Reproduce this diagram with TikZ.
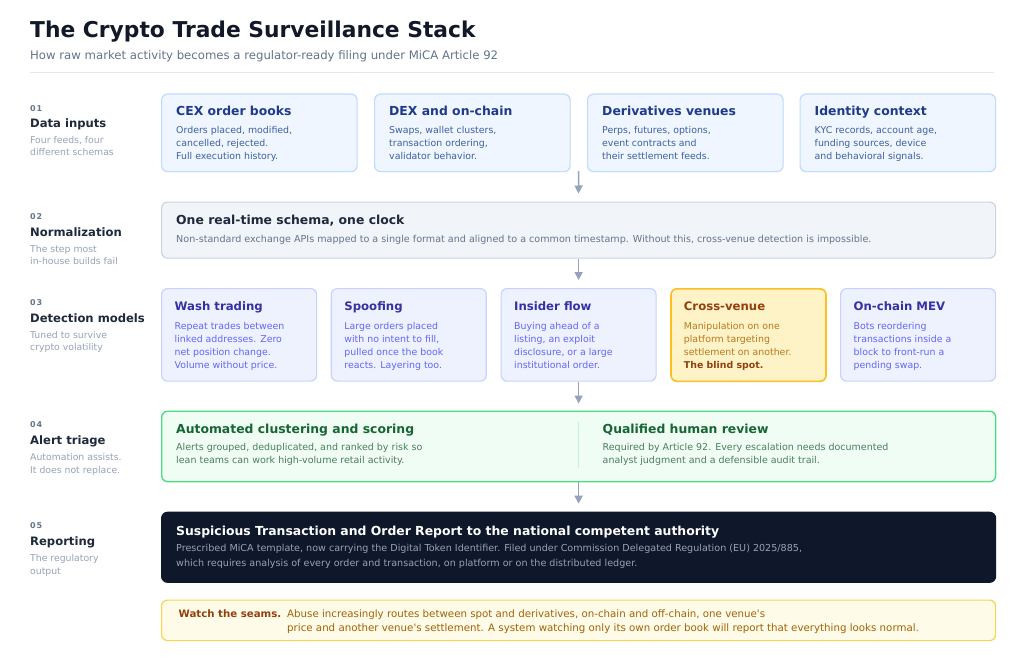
\documentclass[tikz,border=0pt]{standalone}
\usepackage{fontspec}
\setmainfont{DejaVu Sans}
\newfontfamily\spacedfont[LetterSpace=12]{DejaVu Sans}
\usetikzlibrary{arrows.meta,calc}
\definecolor{titleC}{HTML}{111827}
\definecolor{subC}{HTML}{64748B}
\definecolor{ruleC}{HTML}{E5E7EB}
\definecolor{numC}{HTML}{64748B}
\definecolor{labC}{HTML}{1E293B}
\definecolor{descC}{HTML}{94A3B8}
\definecolor{inFill}{HTML}{EFF6FF}
\definecolor{inLine}{HTML}{BFDBFE}
\definecolor{inTitle}{HTML}{1E3A8A}
\definecolor{inBody}{HTML}{3F5F9F}
\definecolor{nFill}{HTML}{F1F5F9}
\definecolor{nLine}{HTML}{CBD5E1}
\definecolor{nTitle}{HTML}{1E293B}
\definecolor{nBody}{HTML}{64748B}
\definecolor{dFill}{HTML}{EEF2FF}
\definecolor{dLine}{HTML}{C7D2FE}
\definecolor{dTitle}{HTML}{3730A3}
\definecolor{dBody}{HTML}{6366F1}
\definecolor{xFill}{HTML}{FEF3C7}
\definecolor{xLine}{HTML}{FBBF24}
\definecolor{xTitle}{HTML}{92400E}
\definecolor{xBody}{HTML}{B7791F}
\definecolor{tFill}{HTML}{F0FDF4}
\definecolor{tLine}{HTML}{4ADE80}
\definecolor{tTitle}{HTML}{166534}
\definecolor{tBody}{HTML}{4D7C5F}
\definecolor{tDiv}{HTML}{BBF7D0}
\definecolor{rFill}{HTML}{0F172A}
\definecolor{rBody}{HTML}{94A3B8}
\definecolor{wFill}{HTML}{FEFCE8}
\definecolor{wLine}{HTML}{FCD34D}
\definecolor{wBold}{HTML}{92400E}
\definecolor{wBody}{HTML}{A16207}
\definecolor{arrC}{HTML}{94A3B8}
\newcommand{\fsz}[2]{\fontsize{#1}{#2}\selectfont}
\tikzset{
  panel/.style={rounded corners=6pt, anchor=north west, inner sep=0pt, line width=1.2pt},
  inbox/.style={panel, fill=inFill, draw=inLine},
  normbox/.style={panel, fill=nFill, draw=nLine},
  detbox/.style={panel, fill=dFill, draw=dLine},
  xbox/.style={panel, fill=xFill, draw=xLine, line width=1.6pt},
  triagebox/.style={panel, fill=tFill, draw=tLine, line width=1.4pt},
  repbox/.style={panel, fill=rFill, draw=rFill},
  warnbox/.style={panel, fill=wFill, draw=wLine},
  txt/.style={anchor=base west, inner sep=0pt, align=left},
  numtxt/.style={txt, text=numC, font=\spacedfont\bfseries\fsz{8}{10}},
  labtxt/.style={txt, text=labC, font=\bfseries\fsz{11.6}{14}},
  desctxt/.style={txt, text=descC, font=\fsz{9.3}{12.3}},
  bigtitle/.style={txt, font=\bfseries\fsz{12.4}{15}},
  smalltitle/.style={txt, font=\bfseries\fsz{11.7}{14}},
  body/.style={txt, font=\fsz{9.4}{13}},
  flow/.style={draw=arrC, line width=1.5pt, -{Triangle[width=8pt,length=8pt]}}
}
\begin{document}
\begin{tikzpicture}[x=1pt,y=-1pt]
\useasboundingbox (0,0) rectangle (1024,658);
\fill[white] (0,0) rectangle (1024,658);
% header (multi-line nodes are placed by the baseline of their last line)
\node[txt, text=titleC, font=\bfseries\fsz{21.8}{25}] (title) at (30,37.5) {The Crypto Trade Surveillance Stack};
\node[txt, text=subC, font=\fsz{11.7}{14}] (subtitle) at (30,60) {How raw market activity becomes a regulator-ready filing under MiCA Article 92};
\draw[ruleC, line width=1.2pt] (30,72.5) coordinate (rl) -- (994,72.5) coordinate (rr);
% left column
\node[numtxt] (n1) at (30,111) {01};
\node[labtxt] (l1) at (30,128) {Data inputs};
\node[desctxt] (d1) at (30,155.8) {Four feeds, four\\different schemas};
\node[numtxt] (n2) at (30,219.3) {02};
\node[labtxt] (l2) at (30,236) {Normalization};
\node[desctxt] (d2) at (30,264.6) {The step most\\in-house builds fail};
\node[numtxt] (n3) at (30,305) {03};
\node[labtxt] (l3) at (30,322.3) {Detection models};
\node[desctxt] (d3) at (30,350.6) {Tuned to survive\\crypto volatility};
\node[numtxt] (n4) at (30,427.7) {04};
\node[labtxt] (l4) at (30,444) {Alert triage};
\node[desctxt] (d4) at (30,473) {Automation assists.\\It does not replace.};
\node[numtxt] (n5) at (30,528.3) {05};
\node[labtxt] (l5) at (30,545) {Reporting};
\node[desctxt] (d5) at (30,574) {The regulatory\\output};
% row 1: data inputs
\node[inbox, minimum width=195.5pt, minimum height=77.5pt] (cex) at (161,93.5) {};
\node[inbox, minimum width=195.5pt, minimum height=77.5pt] (dex) at (374,93.5) {};
\node[inbox, minimum width=195.5pt, minimum height=77.5pt] (deriv) at (587,93.5) {};
\node[inbox, minimum width=195.5pt, minimum height=77.5pt] (ident) at (799.5,93.5) {};
\node[bigtitle, text=inTitle] (cexT) at (176,115.3) {CEX order books};
\node[body, text=inBody] (cexB) at (176,159) {Orders placed, modified,\\cancelled, rejected.\\Full execution history.};
\node[bigtitle, text=inTitle] (dexT) at (389,115.3) {DEX and on-chain};
\node[body, text=inBody] (dexB) at (389,159) {Swaps, wallet clusters,\\transaction ordering,\\validator behavior.};
\node[bigtitle, text=inTitle] (derT) at (602,115.3) {Derivatives venues};
\node[body, text=inBody] (derB) at (602,159) {Perps, futures, options,\\event contracts and\\their settlement feeds.};
\node[bigtitle, text=inTitle] (idT) at (814.5,115.3) {Identity context};
\node[body, text=inBody] (idB) at (814.5,159) {KYC records, account age,\\funding sources, device\\and behavioral signals.};
% row 2: normalization
\node[normbox, minimum width=834pt, minimum height=56pt] (norm) at (161,201.5) {};
\node[bigtitle, text=nTitle] (normT) at (176,224.3) {One real-time schema, one clock};
\node[body, text=nBody, font=\fsz{9.6}{12}] (normB) at (176,242.5) {Non-standard exchange APIs mapped to a single format and aligned to a common timestamp. Without this, cross-venue detection is impossible.};
% row 3: detection
\node[detbox, minimum width=155pt, minimum height=92.5pt] (wash) at (161,288) {};
\node[detbox, minimum width=155pt, minimum height=92.5pt] (spoof) at (330.7,288) {};
\node[detbox, minimum width=155pt, minimum height=92.5pt] (insider) at (500.5,288) {};
\node[xbox, minimum width=155pt, minimum height=92.5pt] (cross) at (670.2,288) {};
\node[detbox, minimum width=155pt, minimum height=92.5pt] (mev) at (840,288) {};
\node[smalltitle, text=dTitle] (washT) at (174.5,310.3) {Wash trading};
\node[body, text=dBody] (washB) at (174.5,368.3) {Repeat trades between\\linked addresses. Zero\\net position change.\\Volume without price.};
\node[smalltitle, text=dTitle] (spoofT) at (344.2,310.3) {Spoofing};
\node[body, text=dBody] (spoofB) at (344.2,368.3) {Large orders placed\\with no intent to fill,\\pulled once the book\\reacts. Layering too.};
\node[smalltitle, text=dTitle] (insT) at (514,310.3) {Insider flow};
\node[body, text=dBody] (insB) at (514,368.3) {Buying ahead of a\\listing, an exploit\\disclosure, or a large\\institutional order.};
\node[smalltitle, text=xTitle] (crossT) at (683.7,310.3) {Cross-venue};
\node[body, text=xBody] (crossB) at (683.7,368.3) {Manipulation on one\\platform targeting\\settlement on another.\\\textcolor{xTitle}{\bfseries The blind spot.}};
\node[smalltitle, text=dTitle] (mevT) at (853.5,310.3) {On-chain MEV};
\node[body, text=dBody] (mevB) at (853.5,368.3) {Bots reordering\\transactions inside a\\block to front-run a\\pending swap.};
% row 4: triage
\node[triagebox, minimum width=834pt, minimum height=70.5pt] (triage) at (161,410.5) {};
\node[bigtitle, text=tTitle] (autoT) at (176,433.3) {Automated clustering and scoring};
\node[body, text=tBody, font=\fsz{9.5}{13.3}] (autoB) at (176,463.3) {Alerts grouped, deduplicated, and ranked by risk so\\lean teams can work high-volume retail activity.};
\coordinate (divtop) at (578.5,422);
\coordinate (divbot) at (578.5,468);
\draw[tDiv, line width=1.2pt] (divtop) -- (divbot);
\node[bigtitle, text=tTitle] (humT) at (602.5,433.3) {Qualified human review};
\node[body, text=tBody, font=\fsz{9.5}{13.3}] (humB) at (602.5,463.3) {Required by Article 92. Every escalation needs documented\\analyst judgment and a defensible audit trail.};
% row 5: reporting
\node[repbox, minimum width=834pt, minimum height=70pt] (report) at (161,511.7) {};
\node[bigtitle, text=white] (repT) at (176,535) {Suspicious Transaction and Order Report to the national competent authority};
\node[body, text=rBody, font=\fsz{9.6}{15}] (repB) at (176,566.7) {Prescribed MiCA template, now carrying the Digital Token Identifier. Filed under Commission Delegated Regulation (EU) 2025/885,\\which requires analysis of every order and transaction, on platform or on the distributed ledger.};
% warning
\node[warnbox, minimum width=834pt, minimum height=40.5pt] (warn) at (161,599.5) {};
\node[txt, text=wBold, font=\bfseries\fsz{10.2}{14}] (warnT) at (178.5,617.7) {Watch the seams.};
\node[body, text=wBody, font=\fsz{10.25}{14}] (warnB) at (287,631.7) {Abuse increasingly routes between spot and derivatives, on-chain and off-chain, one venue\textquotesingle s\\price and another venue\textquotesingle s settlement. A system watching only its own order book will report that everything looks normal.};
% connectors
\coordinate (r1out) at (578.5,171);
\draw[flow, shorten >=8pt] (r1out) -- (norm.north);
\draw[flow, shorten >=8pt] (norm.south) -- (insider.north);
\draw[flow, shorten >=7pt] (insider.south) -- (insider.south |- triage.north);
\draw[flow, shorten >=8pt] (triage.south -| insider.south) -- (insider.south |- report.north);
\end{tikzpicture}
\end{document}
